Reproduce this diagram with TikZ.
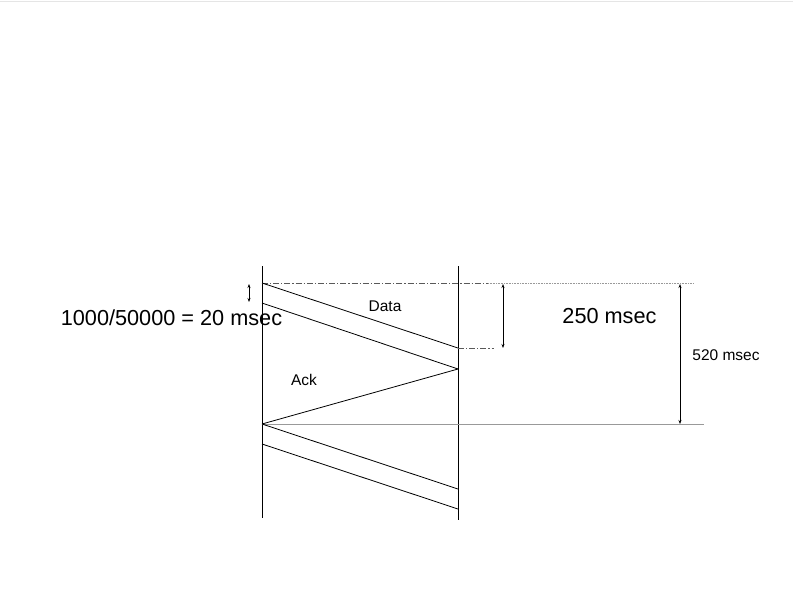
\documentclass[tikz,border=0pt]{standalone}
\usepackage{fontspec}
\setmainfont{Liberation Sans}
\usetikzlibrary{arrows.meta}
\tikzset{
  wire/.style={line width=0.8pt, black},
  dashdot/.style={line width=0.6pt, gray!70!black, dash pattern=on 6pt off 2pt on 1.2pt off 2pt},
  dotline/.style={line width=0.6pt, gray!80, dash pattern=on 0.8pt off 0.8pt},
  dim/.style={line width=0.7pt, {Stealth[length=4pt,width=3pt]}-{Stealth[length=4pt,width=3pt]}},
  bigtxt/.style={font=\fontsize{21.7}{24}\selectfont, inner sep=0pt},
  smalltxt/.style={font=\fontsize{15.5}{18}\selectfont, inner sep=0pt}
}
\begin{document}
\begin{tikzpicture}[x=1pt,y=-1pt]
\useasboundingbox (0,0) rectangle (793,595);
\fill[white] (0,0) rectangle (793,595);
\draw[gray!20, line width=1pt] (0,1) -- (793,1);
% coordinates
\coordinate (Ltop) at (262,266);
\coordinate (Lbot) at (262,518);
\coordinate (Rtop) at (458,266);
\coordinate (Rbot) at (458,520);
\coordinate (A1) at (262,283);
\coordinate (A2) at (262,303);
\coordinate (B1) at (458,348);
\coordinate (B2) at (458,369);
\coordinate (C) at (262,424);
\coordinate (C2) at (262,444);
\coordinate (D1) at (458,489);
\coordinate (D2) at (458,509);
\coordinate (TopDD) at (488,283);
\coordinate (TopEnd) at (693,283);
\coordinate (MidDD) at (494,348);
\coordinate (HEnd) at (704,424);
% verticals
\draw[wire] (Ltop) -- (Lbot);
\draw[wire] (Rtop) -- (Rbot);
% reference lines
\draw[dashdot] (A1) -- (TopDD);
\draw[dotline] (TopDD) -- (TopEnd);
\draw[dashdot] (B1) -- (MidDD);
\draw[line width=0.8pt, gray!80] (C) -- (HEnd);
% packets
\draw[wire] (A1) -- (B1);
\draw[wire] (A2) -- (B2);
\draw[wire] (B2) -- (C);
\draw[wire] (C) -- (D1);
\draw[wire] (C2) -- (D2);
% dimension arrows
\coordinate (s1) at (249,284);
\coordinate (s2) at (249,302);
\draw[dim] (s1) -- (s2);
\coordinate (m1) at (503,284);
\coordinate (m2) at (503,348);
\draw[dim] (m1) -- (m2);
\coordinate (r1) at (680,284);
\coordinate (r2) at (680,424);
\draw[dim] (r1) -- (r2);
% labels
\node[smalltxt] (data) at (385,306) {Data};
\node[smalltxt] (ack) at (304,380) {Ack};
\node[bigtxt] (calc) at (171.5,318) {1000/50000 = 20 msec};
\node[bigtxt] (t250) at (609.5,316) {250 msec};
\node[smalltxt] (t520) at (726,355) {520 msec};
\end{tikzpicture}
\end{document}
